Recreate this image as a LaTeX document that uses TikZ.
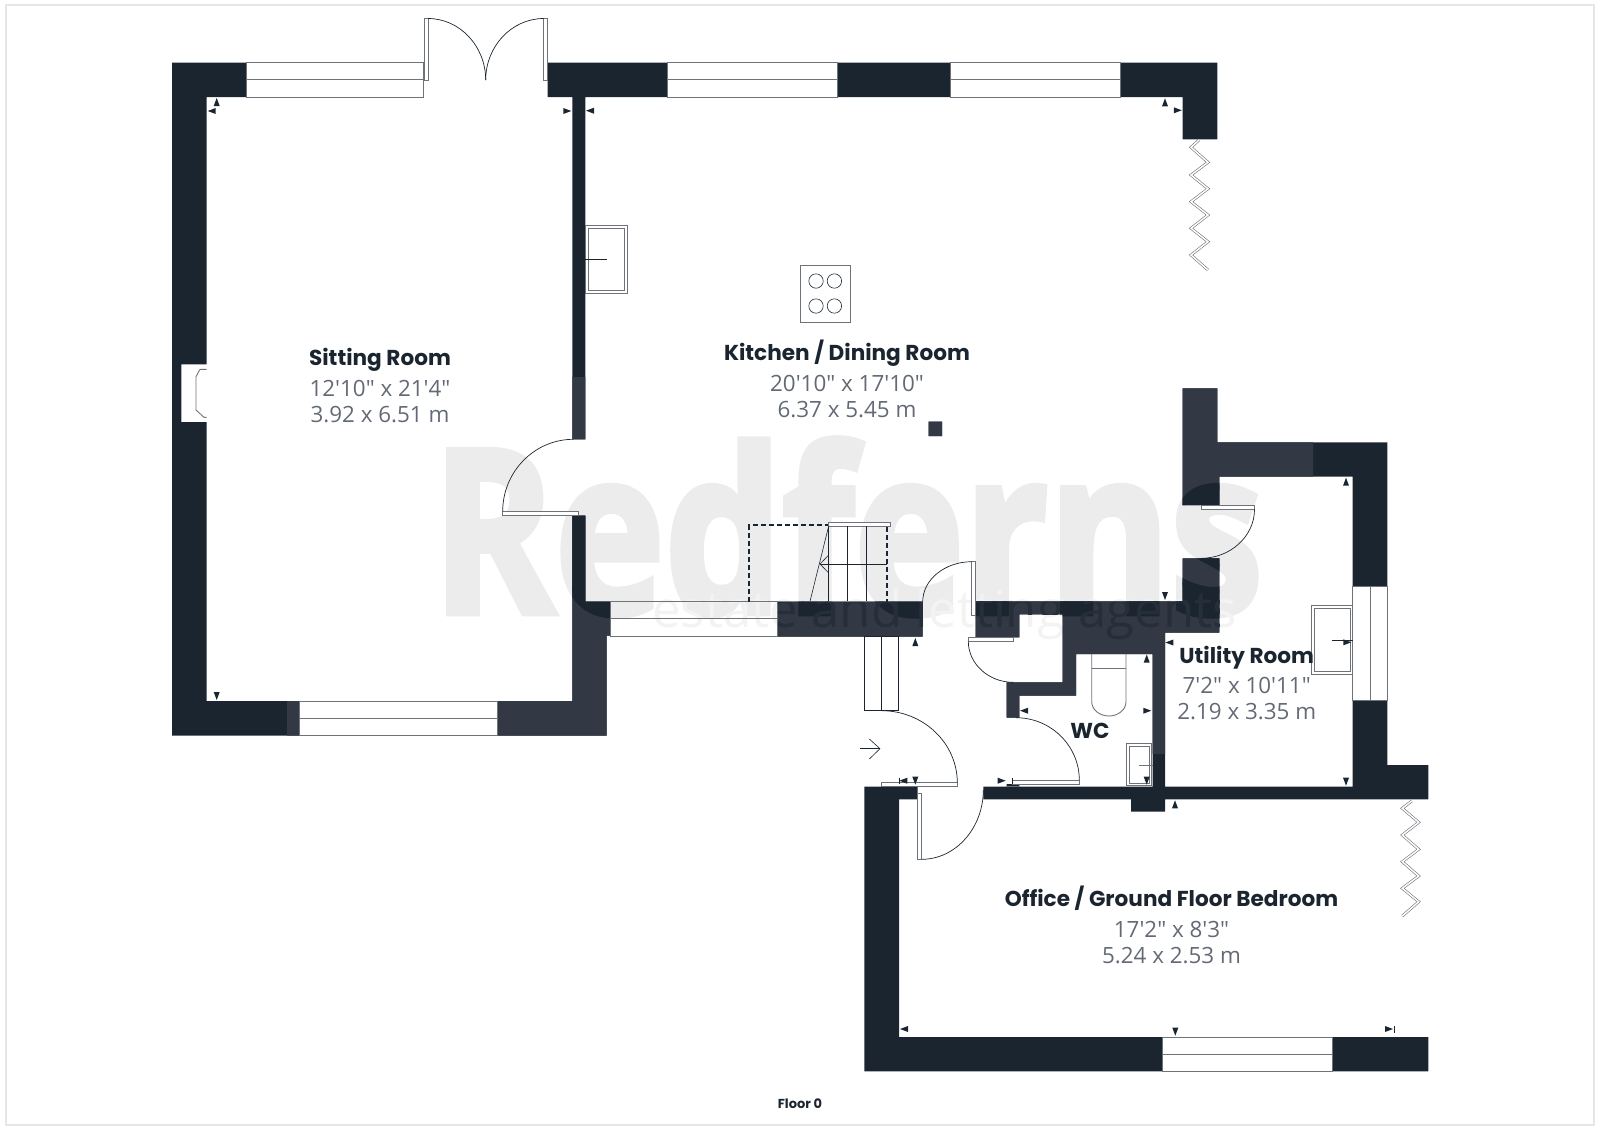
\documentclass[tikz,border=0pt]{standalone}
\usepackage{fontspec}
\newfontfamily\titlefont{Poppins}
\newfontfamily\dimfont{Open Sans}
\newfontfamily\markfont[BoldFeatures={FakeBold=3}]{Open Sans}
\usetikzlibrary{positioning,calc}
\definecolor{walldark}{HTML}{1B2530}
\definecolor{wallpale}{HTML}{333944}
\definecolor{wallthin}{HTML}{262E3A}
\definecolor{framegrey}{HTML}{E6E6E6}
\definecolor{markgrey}{HTML}{ECECEC}
\definecolor{markthin}{HTML}{F3F3F3}
\definecolor{linegrey}{HTML}{6E737A}
\definecolor{dimgrey}{HTML}{636A75}
\newcommand\markword{\scalebox{.815}[1]{\fontsize{228}{228}\markfont\bfseries Redferns}}
\newcommand\swing[3]{\draw[doorline] (#1) .. controls ($(#1)!.55!(#2)$) and ($(#3)!.55!(#2)$) .. (#3);}
\tikzset{
	wallpath/.style={insert path={
		(172,62.7) -- (246.7,62.7) -- (246.7,97) -- (206.7,97) -- (206.7,364.3) -- (181.3,364.3) -- (181.3,422) -- (206.7,422) -- (206.7,701) -- (299,701) -- (299,735.7) -- (172,735.7) -- cycle
		(547.5,62.7) -- (667.7,62.7) -- (667.7,97) -- (585.3,97) -- (585.3,439.3) -- (572.3,439.3) -- (572.3,97) -- (547.5,97) -- cycle
		(837,62.7) rectangle (950,97)
		(1120,62.7) -- (1217.3,62.7) -- (1217.3,139.3) -- (1182.7,139.3) -- (1182.7,97) -- (1120,97) -- cycle
		(928.5,421.7) rectangle (942,436)
		(572.3,515.7) -- (585.3,515.7) -- (585.3,601.7) -- (610.7,601.7) -- (610.7,635.7) -- (606.7,635.7) -- (606.7,735.7) -- (497,735.7) -- (497,701) -- (572.3,701) -- cycle
		(777.7,601.7) rectangle (922.7,636.7)
		(975.7,601.3) -- (1182.7,601.3) -- (1182.7,558.3) -- (1219.3,558.3) -- (1219.3,632.7) -- (1165,632.7) -- (1165,786.7) -- (1352.7,786.7) -- (1352.7,700) -- (1387.3,700) -- (1387.3,765) -- (1428.3,765) -- (1428.3,799.3) -- (1165,799.3) -- (1165,811.7) -- (1131,811.7) -- (1131,799.3) -- (983.3,799.3) -- (983.3,786.7) -- (1152.7,786.7) -- (1152.7,654) -- (1076,654) -- (1076,695.7) -- (1019.3,695.7) -- (1019.3,717.7) -- (1006.7,717.7) -- (1006.7,682.3) -- (1062.7,682.3) -- (1062.7,614.3) -- (1019.3,614.3) -- (1019.3,637.3) -- (975.7,637.3) -- cycle
		(1182.7,388.3) -- (1217.3,388.3) -- (1217.3,442.3) -- (1387.3,442.3) -- (1387.3,586) -- (1352.7,586) -- (1352.7,476.7) -- (1219.3,476.7) -- (1219.3,505) -- (1182.7,505) -- cycle
		(864.3,786.7) -- (917.7,786.7) -- (917.7,799.3) -- (899,799.3) -- (899,1037) -- (1162,1037) -- (1162,1071.3) -- (864.3,1071.3) -- cycle
		(1332.2,1037) rectangle (1428.3,1071.3)
		(1006.7,784) rectangle (1019.3,787)
	}},
	windowline/.style={draw=linegrey,line width=1pt},
	fixture/.style={draw=linegrey,line width=.9pt},
	thinline/.style={draw=walldark,line width=.6pt},
	doorline/.style={draw=walldark,line width=.7pt},
	leaf/.style={draw=linegrey,fill=white,line width=.8pt},
	folding/.style={draw=linegrey,double=white,double distance=1.5pt,line width=.6pt},
	tickmark/.style={fill=walldark},
	markthinword/.style={anchor=base west,inner sep=0pt,font=\dimfont\fontsize{51}{51}\selectfont},
	roomtitle/.style={inner sep=0pt,text=walldark,font=\titlefont\bfseries\fontsize{21.6}{26}\selectfont},
	roomdim/.style={inner sep=0pt,align=center,text=dimgrey,font=\dimfont\fontsize{22.4}{26}\selectfont}
}
\begin{document}
\begin{tikzpicture}[x=1pt,y=-1pt]
	\useasboundingbox (0,0) rectangle (1600,1128);
	\draw[framegrey,line width=2.5pt] (6,5) rectangle (1594,1125);

	% watermark under the plan
	\node (mark) [anchor=base west,inner sep=0pt,text=markgrey] at (432,613) {\markword};
	\node (agents) [markthinword,text=markthin] at (652,627) {estate and letting agents};

	% walls
	\fill[walldark,wallpath];
	\begin{scope}
		\clip (287,377) rectangle (1313,753);
		\fill[wallpale,wallpath];
		\clip[wallpath];
		\node (markwall) [anchor=base west,inner sep=0pt,text=walldark] at (432,613) {\markword};
		\node (agentswall) [markthinword,text=wallthin] at (652,627) {estate and letting agents};
	\end{scope}

	% windows
	\foreach \xa/\xb/\ya in {246.7/423.5/62.7,667.7/837/62.7,950/1120/62.7,299/497/701,610.7/777.7/601.7,1162/1332.2/1037} {
		\draw[windowline] (\xa,\ya) rectangle (\xb,\ya+34.3);
		\draw[windowline] (\xa,\ya+17.2) -- (\xb,\ya+17.2);
	}
	\draw[windowline] (1352.7,586) rectangle (1387.3,700);
	\draw[windowline] (1370,586) -- (1370,700);

	% fireplace
	\draw[fixture] (206.7,369.3) -- (200,369.3) -- (196,376.7) -- (196,410) -- (204,417.3) -- (206.7,417.3);

	% doors
	\draw[leaf] (424,18.5) rectangle (428,80);
	\draw[leaf] (543.7,18.5) rectangle (547.5,80);
	\swing{428,18.5}{485.7,18.5}{485.7,80}
	\swing{543.7,18.5}{485.7,18.5}{485.7,80}
	\draw[leaf] (502.7,511.3) rectangle (578.3,515.3);
	\swing{502.7,511.3}{502.7,439.3}{573.3,439.3}
	\draw[leaf] (971.7,561.7) rectangle (975.7,615);
	\swing{971.7,561.7}{922.7,561.7}{922.7,601.7}
	\draw[leaf] (968.3,637.3) rectangle (1013.3,641.3);
	\swing{968.3,641.3}{968.3,682.3}{1013.3,682.3}
	\draw[leaf] (881.7,782.7) rectangle (957.3,786.7);
	\swing{957.3,782.7}{957.3,710.7}{881.7,710.7}
	\draw[leaf] (917.7,793.3) rectangle (921.7,859.3);
	\swing{921.7,859.3}{983.3,859.3}{983.3,790}
	\draw[leaf] (1012.7,780) rectangle (1079.3,784.5);
	\swing{1079.3,780}{1079.3,717.7}{1016,717.7}
	\draw[leaf] (1201,505.5) rectangle (1254.5,509.3);
	\swing{1254.5,509.3}{1254.5,558.3}{1201,558.3}

	% hall steps and way in
	\draw[thinline] (864.3,636.7) rectangle (898.7,710.7);
	\draw[thinline] (881.7,636.7) -- (881.7,710.7);
	\draw[thinline] (860,748.7) -- (880,748.7);
	\draw[thinline] (869.3,739) -- (880,748.7) -- (869.3,759);

	% stairs
	\draw[walldark,line width=1.8pt,dash pattern=on 5pt off 3pt] (749,601.7) -- (749,525.3) -- (886.7,525.3) -- (886.7,601.7);
	\draw[leaf] (828.7,522) rectangle (890.3,526);
	\foreach \xs in {828.7,847.7,866.7} {
		\draw[thinline] (\xs,526) -- (\xs,601.3);
	}
	\draw[thinline] (828.7,526) -- (810,601.3);
	\draw[thinline] (820,564) -- (886.7,564);
	\draw[thinline] (828.7,555) -- (820,564) -- (828.7,573);

	% kitchen fittings
	\draw[fixture] (800,265) rectangle (850,322.3);
	\foreach \xc in {816,834.4} {
		\foreach \yc in {281,306} {
			\draw[thinline] (\xc,\yc) circle (7.2);
		}
	}
	\draw[fixture] (585.7,225.7) rectangle (627.3,293.7);
	\draw[fixture] (588.3,228.3) rectangle (624.7,290.7);
	\draw[thinline] (585.3,259.3) -- (606.7,259.3);

	% WC and utility fittings
	\draw[fixture] (1091.7,654) -- (1091.7,701.7) .. controls (1091.7,710) and (1100,716) .. (1108.9,716) .. controls (1117.8,716) and (1126,710) .. (1126,701.7) -- (1126,654);
	\draw[fixture] (1091.7,668.3) -- (1126,668.3);
	\draw[fixture] (1126,743.3) rectangle (1151.7,785.7);
	\draw[fixture] (1129.3,746.7) rectangle (1149.3,783.3);
	\draw[fixture] (1139.3,765) -- (1152.7,765);
	\draw[fixture] (1311,605.7) rectangle (1352.7,674);
	\draw[fixture] (1314,608.7) rectangle (1350,671.7);
	\draw[thinline] (1331.7,640) -- (1352.7,640);

	% folding doors
	\draw[folding] (1199,140) -- (1191,147.3) -- (1208,162.3) -- (1191,175) -- (1208,188.7) -- (1191,201.7) -- (1208,215) -- (1191,228.3) -- (1208,241.7) -- (1191,255) -- (1208,270);
	\draw[folding] (1411.7,801) -- (1402.3,808.3) -- (1418.7,822.3) -- (1402.3,835) -- (1418.7,849.3) -- (1402.3,861.7) -- (1418.7,876) -- (1402.3,888.3) -- (1418.7,901.7) -- (1402.3,916);

	% measuring marks
	\foreach \tx/\ty/\ta in {216.7/102/90,211.7/111/180,216.7/696/270,567.3/111/0,590/110.7/180,1165/102.3/90,1177.8/110.3/0,915.3/642/90,903.3/780.7/180,915.3/780.7/270,1001.7/780.7/0,1024/710.7/180,1147.3/710.7/0,1146.7/658.5/90,1146.7/780.7/270,1165/596/270,1169.3/642.5/180,1346/481.7/90,1347.3/642.3/0,1346/781.7/270,1175/804.3/90,904/1029/180,1175.3/1031.7/270,1389/1029/0} {
		\fill[tickmark,shift={(\tx,\ty)},rotate=\ta] (4,0) -- (-4,-3) -- (-4,3) -- cycle;
	}
	\draw[thinline] (899,777.5) -- (899,784);
	\draw[thinline] (1012.7,777.5) -- (1012.7,784);
	\draw[thinline] (1394,1025.5) -- (1394,1032.5);

	% rooms
	\node (sitting) [roomtitle] at (380,360) {Sitting Room};
	\node (sittingdim) [roomdim,below=8pt of sitting] {12'10" x 21'4"\\3.92 x 6.51 m};
	\node (kitchen) [roomtitle] at (847,353) {Kitchen / Dining Room};
	\node (kitchendim) [roomdim,below=9pt of kitchen] {20'10" x 17'10"\\6.37 x 5.45 m};
	\node (utility) [roomtitle] at (1246.7,657.7) {Utility Room};
	\node (utilitydim) [roomdim,below=8pt of utility] {7'2" x 10'11"\\2.19 x 3.35 m};
	\node (office) [roomtitle] at (1171.5,898) {Office / Ground Floor Bedroom};
	\node (officedim) [roomdim,below=11pt of office] {17'2" x 8'3"\\5.24 x 2.53 m};
	\node (wc) [roomtitle] at (1090,730.7) {WC};
	\node (floor) [inner sep=0pt,text=walldark,font=\titlefont\bfseries\fontsize{13}{13}\selectfont] at (800,1104) {Floor 0};
\end{tikzpicture}
\end{document}
